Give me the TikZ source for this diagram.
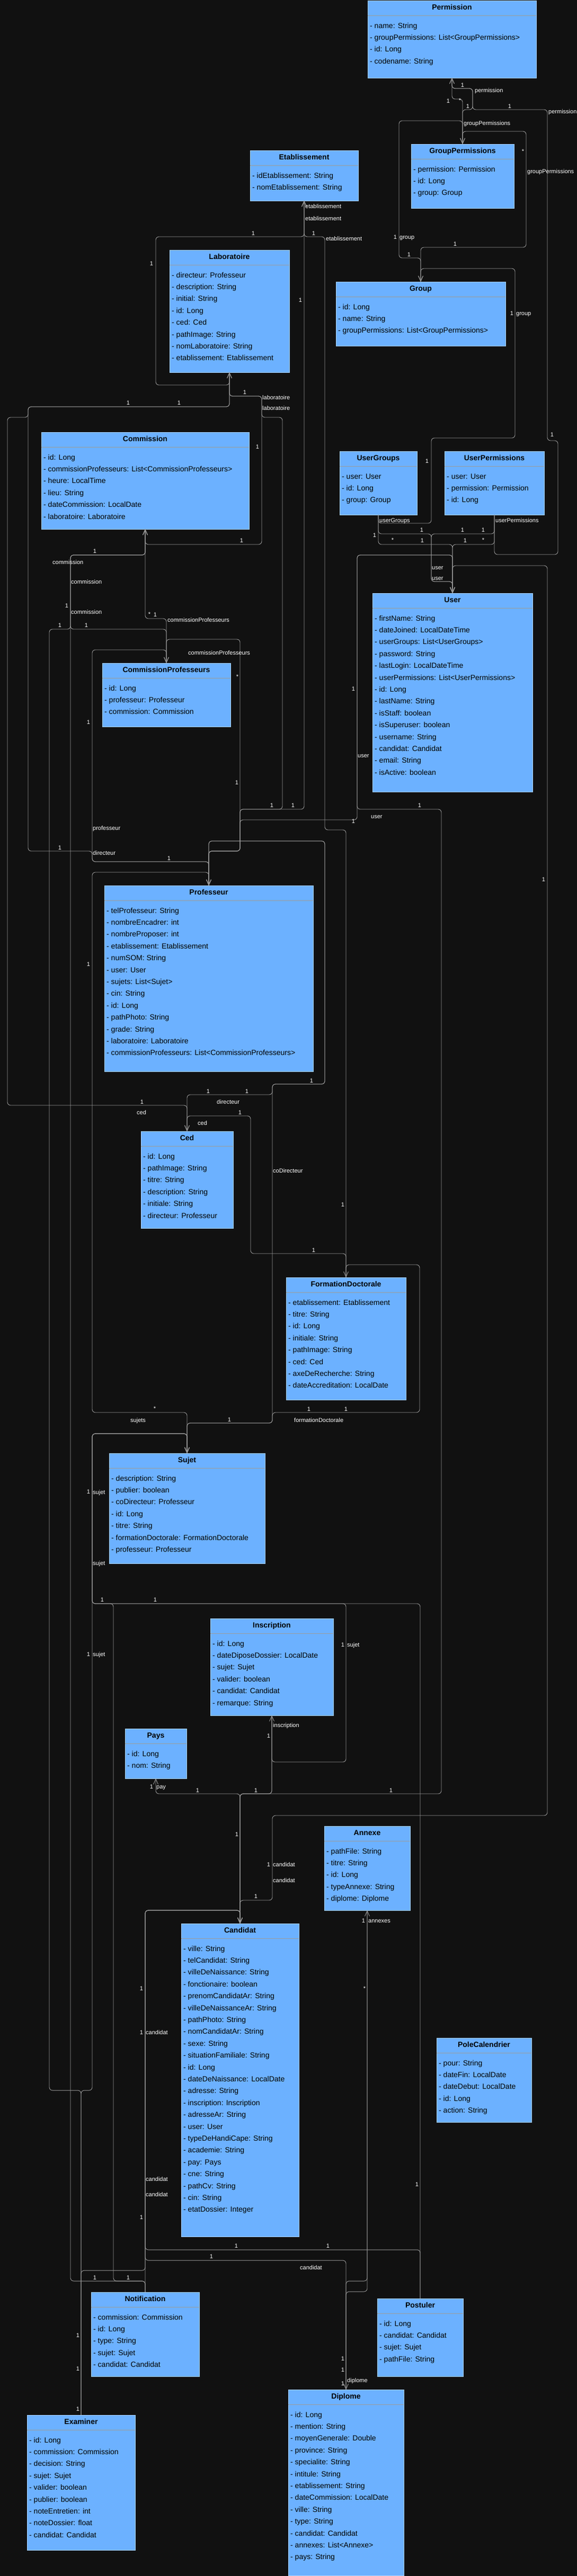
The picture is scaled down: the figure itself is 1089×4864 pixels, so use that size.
\documentclass[tikz,border=0pt]{standalone}
\usepackage{fontspec}
\setmainfont{Liberation Sans}
\usetikzlibrary{arrows.meta}
\definecolor{bgc}{HTML}{111111}
\definecolor{boxfill}{HTML}{6CB1FF}
\definecolor{boxline}{HTML}{A9D2FF}
\definecolor{sepc}{HTML}{9C9C9C}
\definecolor{edgec}{HTML}{9A9A9A}
\tikzset{
 cbox/.style={draw=boxline, fill=boxfill, line width=1pt, inner sep=0pt, outer sep=0pt},
 sepl/.style={draw=sepc, line width=1pt},
 ctitle/.style={font=\fontsize{14}{16}\selectfont\bfseries, text=black, anchor=base, inner sep=0pt},
 cattr/.style={font=\fontsize{14}{16}\selectfont, text=black, anchor=base west, inner sep=0pt},
 conn/.style={draw=edgec, line width=0.9pt, rounded corners=6pt},
 tip/.style={-{Straight Barb[length=10pt,width=9pt]}},
 elabel/.style={font=\fontsize{11}{13}\selectfont, text=white, inner sep=0pt},
}
\newcount\lblcnt
\newcommand{\classbox}[7]{%
  \node[cbox, anchor=north west, minimum width={(#3-#2)*1pt}, minimum height={(#5-#4)*1pt}] (#1) at (#2,#4) {};
  \draw[sepl] (#2,#4+28) -- (#3,#4+28);
  \node[ctitle] (#1-t) at ({(#2+#3)/2},#4+17) {#6};
  \foreach \cattxt [count=\ci from 0] in {#7}{%
    \node[cattr] (#1-a\ci) at (#2+4,{#4+52+22.4*\ci}) {\cattxt};
  }%
}
\newcommand{\mcl}[3]{\global\advance\lblcnt by 1 \node[elabel, anchor=base] (lb\the\lblcnt) at (#1,#2+4) {#3};}
\newcommand{\rlab}[3]{\global\advance\lblcnt by 1 \node[elabel, anchor=base west] (lb\the\lblcnt) at (#1,#2+4) {#3};}
\begin{document}
\begin{tikzpicture}[x=1pt,y=-1pt]
\fill[bgc] (0,0) rectangle (1089,4864);
\useasboundingbox (0,0) rectangle (1089,4864);

% ---------------- classes ----------------
\classbox{perm}{694}{1012}{1}{147}{Permission}{- name: String,- groupPermissions: List<GroupPermissions>,- id: Long,- codename: String}
\classbox{etab}{472}{676}{284}{379}{Etablissement}{- idEtablissement: String,- nomEtablissement: String}
\classbox{gp}{776}{970}{272}{393}{GroupPermissions}{- permission: Permission,- id: Long,- group: Group}
\classbox{lab}{320}{546}{472}{703}{Laboratoire}{- directeur: Professeur,- description: String,- initial: String,- id: Long,- ced: Ced,- pathImage: String,- nomLaboratoire: String,- etablissement: Etablissement}
\classbox{grp}{634}{954}{532}{653}{Group}{- id: Long,- name: String,- groupPermissions: List<GroupPermissions>}
\classbox{comm}{78}{470}{816}{999}{Commission}{- id: Long,- commissionProfesseurs: List<CommissionProfesseurs>,- heure: LocalTime,- lieu: String,- dateCommission: LocalDate,- laboratoire: Laboratoire}
\classbox{ug}{641}{787}{852}{972}{UserGroups}{- user: User,- id: Long,- group: Group}
\classbox{up}{839}{1027}{852}{972}{UserPermissions}{- user: User,- permission: Permission,- id: Long}
\classbox{user}{703}{1005}{1120}{1495}{User}{- firstName: String,- dateJoined: LocalDateTime,- userGroups: List<UserGroups>,- password: String,- lastLogin: LocalDateTime,- userPermissions: List<UserPermissions>,- id: Long,- lastName: String,- isStaff: boolean,- isSuperuser: boolean,- username: String,- candidat: Candidat,- email: String,- isActive: boolean}
\classbox{cp}{193}{435}{1252}{1372}{CommissionProfesseurs}{- id: Long,- professeur: Professeur,- commission: Commission}
\classbox{prof}{197}{591}{1672}{2023}{Professeur}{- telProfesseur: String,- nombreEncadrer: int,- nombreProposer: int,- etablissement: Etablissement,- numSOM: String,- user: User,- sujets: List<Sujet>,- cin: String,- id: Long,- pathPhoto: String,- grade: String,- laboratoire: Laboratoire,- commissionProfesseurs: List<CommissionProfesseurs>}
\classbox{ced}{266}{440}{2136}{2319}{Ced}{- id: Long,- pathImage: String,- titre: String,- description: String,- initiale: String,- directeur: Professeur}
\classbox{fd}{540}{766}{2412}{2643}{FormationDoctorale}{- etablissement: Etablissement,- titre: String,- id: Long,- initiale: String,- pathImage: String,- ced: Ced,- axeDeRecherche: String,- dateAccreditation: LocalDate}
\classbox{sujet}{206}{500}{2744}{2952}{Sujet}{- description: String,- publier: boolean,- coDirecteur: Professeur,- id: Long,- titre: String,- formationDoctorale: FormationDoctorale,- professeur: Professeur}
\classbox{insc}{397}{629}{3056}{3239}{Inscription}{- id: Long,- dateDiposeDossier: LocalDate,- sujet: Sujet,- valider: boolean,- candidat: Candidat,- remarque: String}
\classbox{pays}{236}{352}{3264}{3358}{Pays}{- id: Long,- nom: String}
\classbox{annexe}{612}{774}{3448}{3607}{Annexe}{- pathFile: String,- titre: String,- id: Long,- typeAnnexe: String,- diplome: Diplome}
\classbox{cand}{342}{564}{3632}{4223}{Candidat}{- ville: String,- telCandidat: String,- villeDeNaissance: String,- fonctionaire: boolean,- prenomCandidatAr: String,- villeDeNaissanceAr: String,- pathPhoto: String,- nomCandidatAr: String,- sexe: String,- situationFamiliale: String,- id: Long,- dateDeNaissance: LocalDate,- adresse: String,- inscription: Inscription,- adresseAr: String,- user: User,- typeDeHandiCape: String,- academie: String,- pay: Pays,- cne: String,- pathCv: String,- cin: String,- etatDossier: Integer}
\classbox{pole}{824}{1003}{3848}{4007}{PoleCalendrier}{- pour: String,- dateFin: LocalDate,- dateDebut: LocalDate,- id: Long,- action: String}
\classbox{notif}{172}{376}{4328}{4487}{Notification}{- commission: Commission,- id: Long,- type: String,- sujet: Sujet,- candidat: Candidat}
\classbox{post}{712}{874}{4340}{4487}{Postuler}{- id: Long,- candidat: Candidat,- sujet: Sujet,- pathFile: String}
\classbox{exam}{51}{255}{4560}{4815}{Examiner}{- id: Long,- commission: Commission,- decision: String,- sujet: Sujet,- valider: boolean,- publier: boolean,- noteEntretien: int,- noteDossier: float,- candidat: Candidat}
\classbox{dipl}{544}{762}{4512}{4863}{Diplome}{- id: Long,- mention: String,- moyenGenerale: Double,- province: String,- specialite: String,- intitule: String,- etablissement: String,- dateCommission: LocalDate,- ville: String,- type: String,- candidat: Candidat,- annexes: List<Annexe>,- pays: String}

% ---------------- connectors ----------------
\draw[conn,tip] (gp.north) |- (892,207) -- (892,167) -| (perm.south);
\draw[conn,tip] (perm.south) |- (873,187) -- (gp.north);
\draw[conn,tip] (up.south) |- (1053,1047) -- (1053,832) -- (1033,832) -- (1033,207) -- (892,207) -- (892,167) -| (perm.south);
\draw[conn,tip] (gp.north) |- (753,228) -- (753,487) -| (grp.north);
\draw[conn,tip] (grp.north) |- (993,467) -- (993,248) -| (gp.north);
\draw[conn,tip] (ug.south) |- (814,988) -- (814,827) -- (972,827) -- (972,507) -| (grp.north);
\draw[conn,tip] (ug.south) |- (814,1008) -- (814,1098) -| (user.north);
\draw[conn,tip] (up.south) |- (814,1008) -- (814,1098) -| (user.north);
\draw[conn,tip] (ug.south) |- (854,1028) -- (user.north);
\draw[conn,tip] (up.south) |- (854,1028) -- (user.north);
\draw[conn,tip] (user.north) |- (1033,1068) -- (1033,3428) -- (514,3428) -- (514,3588) -| (cand.north);
\draw[conn,tip] (cand.north) |- (833,3387) -- (833,1528) -- (674,1528) -- (674,1048) -| (user.north);
\draw[conn,tip] (prof.north) |- (453,1607) -- (453,1548) -- (674,1548) -- (674,1048) -| (user.north);
\draw[conn,tip] (lab.south) |- (294,727) -- (294,447) -| (etab.south);
\draw[conn,tip] (prof.north) |- (453,1607) -- (453,1528) -| (etab.south);
\draw[conn,tip] (fd.north) |- (613,1567) -- (613,447) -| (etab.south);
\draw[conn,tip] (prof.north) |- (453,1607) -- (453,1528) -- (533,1528) -- (533,788) -- (494,788) -- (494,748) -| (lab.south);
\draw[conn,tip] (comm.south) |- (494,1028) -- (494,748) -| (lab.south);
\draw[conn,tip] (lab.south) |- (53,768) -- (53,1607) -- (174,1607) -- (174,1627) -| (prof.north);
\draw[conn,tip] (lab.south) |- (53,768) -- (53,788) -- (14,788) -- (14,2087) -| (ced.north);
\draw[conn,tip] (cp.north) |- (274,1168) -- (comm.south);
\draw[conn,tip] (comm.south) |- (133,1048) -- (133,1188) -| (cp.north);
\draw[conn,tip] (exam.north) |- (93,3947) -- (93,1188) -- (133,1188) -- (133,1048) -| (comm.south);
\draw[conn,tip] (notif.north) |- (133,4307) -- (133,1048) -| (comm.south);
\draw[conn,tip] (prof.north) |- (453,1607) -- (453,1207) -| (cp.north);
\draw[conn,tip] (cp.north) |- (174,1227) -- (174,1627) -| (prof.north);
\draw[conn,tip] (prof.north) |- (174,1647) -- (174,2667) -| (sujet.north);
\draw[conn,tip] (ced.north) |- (514,2067) -- (514,2047) -- (613,2047) -- (613,1588) -| (prof.north);
\draw[conn,tip] (sujet.north) |- (514,2687) -- (514,2047) -- (613,2047) -- (613,1588) -| (prof.north);
\draw[conn,tip] (fd.north) |- (473,2367) -- (473,2107) -| (ced.north);
\draw[conn,tip] (sujet.north) |- (514,2687) -- (514,2667) -- (792,2667) -- (792,2388) -| (fd.north);
\draw[conn,tip] (insc.south) |- (653,3327) -- (653,3028) -- (174,3028) -- (174,2707) -| (sujet.north);
\draw[conn,tip] (notif.north) |- (214,4307) -- (214,3028) -- (174,3028) -- (174,2707) -| (sujet.north);
\draw[conn,tip] (post.north) |- (174,3028) -- (174,2707) -| (sujet.north);
\draw[conn,tip] (exam.north) |- (174,3947) -- (174,2707) -| (sujet.north);
\draw[conn,tip] (cand.north) |- (294,3387) -- (pays.south);
\draw[conn,tip] (cand.north) |- (500,3387) -| (insc.south);
\draw[conn,tip] (insc.south) |- (480,3387) -| (cand.north);
\draw[conn,tip] (post.north) |- (274,4248) -- (274,3607) -| (cand.north);
\draw[conn,tip] (dipl.north) |- (274,4268) -- (274,3607) -| (cand.north);
\draw[conn,tip] (exam.north) |- (274,4287) -- (274,3607) -| (cand.north);
\draw[conn,tip] (notif.north) -- (274,3607) -| (cand.north);
\draw[conn,tip] (annexe.south) |- (653,4307) -- (dipl.north);
\draw[conn,tip] (dipl.north) |- (693,4327) -- (annexe.south);

% ---------------- labels ----------------
\mcl{873}{160}{1} \rlab{896}{170}{permission}
\mcl{846}{190}{1} \mcl{868}{189}{*}
\mcl{883}{200}{1} \mcl{962}{200}{1} \rlab{1035}{210}{permission}
\rlab{875}{232}{groupPermissions}
\mcl{987}{285}{*} \rlab{995}{323}{groupPermissions}
\rlab{576}{389}{etablissement} \rlab{576}{412}{etablissement}
\mcl{478}{440}{1} \mcl{592}{440}{1} \rlab{615}{450}{etablissement}
\mcl{746}{447}{1} \rlab{754}{447}{group}
\mcl{859}{460}{1} \mcl{772}{480}{1}
\mcl{286}{497}{1} \mcl{567}{566}{1} \mcl{966}{591}{1} \rlab{974}{591}{group}
\mcl{462}{740}{1} \rlab{495}{750}{laboratoire}
\mcl{242}{760}{1} \mcl{338}{760}{1} \rlab{495}{770}{laboratoire}
\mcl{1042}{820}{1} \mcl{486}{843}{1} \mcl{806}{870}{1}
\rlab{716}{982}{userGroups} \rlab{935}{982}{userPermissions}
\mcl{796}{1000}{1} \mcl{873}{1000}{1} \mcl{912}{1000}{1} \mcl{707}{1010}{1}
\mcl{741}{1019}{*} \mcl{797}{1020}{1} \mcl{878}{1020}{1} \mcl{912}{1019}{*} \mcl{456}{1020}{1}
\mcl{179}{1040}{1} \rlab{99}{1061}{commission}
\rlab{815}{1071}{user} \rlab{815}{1091}{user}
\rlab{134}{1098}{commission} \mcl{126}{1143}{1} \rlab{134}{1155}{commission}
\mcl{113}{1180}{1} \mcl{163}{1180}{1} \mcl{282}{1159}{*} \mcl{293}{1160}{1} \rlab{316}{1170}{commissionProfesseurs}
\rlab{355}{1232}{commissionProfesseurs} \mcl{448}{1277}{*}
\mcl{667}{1300}{1} \mcl{167}{1363}{1} \rlab{675}{1426}{user}
\mcl{447}{1477}{1} \mcl{513}{1520}{1} \mcl{553}{1520}{1} \mcl{792}{1520}{1} \rlab{700}{1541}{user}
\mcl{667}{1550}{1} \rlab{175}{1563}{professeur}
\mcl{113}{1600}{1} \rlab{175}{1610}{directeur} \mcl{319}{1620}{1}
\mcl{1026}{1660}{1} \mcl{167}{1820}{1}
\mcl{588}{2040}{1} \mcl{393}{2060}{1} \mcl{466}{2060}{1} \mcl{268}{2080}{1} \rlab{409}{2080}{directeur} \rlab{258}{2100}{ced} \mcl{453}{2100}{1} \rlab{373}{2120}{ced}
\rlab{515}{2210}{coDirecteur} \mcl{647}{2274}{1} \mcl{592}{2360}{1}
\mcl{292}{2659}{*} \mcl{583}{2660}{1} \mcl{653}{2660}{1} \rlab{246}{2681}{sujets} \mcl{433}{2680}{1} \rlab{555}{2681}{formationDoctorale}
\mcl{167}{2816}{1} \rlab{175}{2817}{sujet}
\rlab{175}{2951}{sujet}
\mcl{193}{3020}{1} \mcl{293}{3020}{1}
\mcl{647}{3105}{1} \rlab{655}{3105}{sujet}
\mcl{167}{3123}{1} \rlab{175}{3123}{sujet}
\rlab{515}{3257}{inscription} \mcl{507}{3277}{1}
\mcl{286}{3373}{1} \rlab{295}{3373}{pay} \mcl{373}{3380}{1} \mcl{483}{3380}{1} \mcl{738}{3380}{1}
\mcl{447}{3463}{1} \mcl{507}{3520}{1} \rlab{515}{3520}{candidat} \rlab{515}{3550}{candidat} \mcl{483}{3580}{1}
\mcl{686}{3626}{1} \rlab{695}{3626}{annexes}
\mcl{688}{3754}{*} \mcl{267}{3754}{1} \mcl{267}{3837}{1} \rlab{275}{3837}{candidat}
\rlab{275}{4114}{candidat} \rlab{275}{4143}{candidat} \mcl{787}{4124}{1} \mcl{267}{4186}{1}
\mcl{446}{4240}{1} \mcl{619}{4240}{1} \mcl{399}{4260}{1} \rlab{566}{4281}{candidat}
\mcl{179}{4300}{1} \mcl{242}{4300}{1}
\mcl{147}{4409}{1} \mcl{647}{4453}{1} \mcl{147}{4472}{1} \mcl{647}{4474}{1} \mcl{647}{4500}{1} \rlab{655}{4494}{diplome} \mcl{147}{4548}{1}
\end{tikzpicture}
\end{document}
